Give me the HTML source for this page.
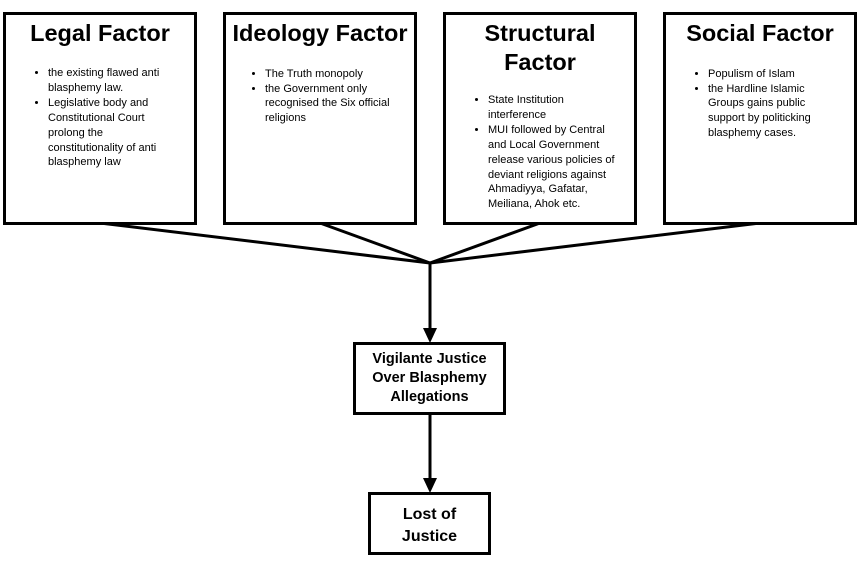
<!DOCTYPE html>
<html><head><style>
body{margin:0;width:859px;height:563px;background:#fff;position:relative;font-family:"Liberation Sans",Arial,sans-serif;overflow:hidden}
.box{position:absolute;border:3px solid #000;box-sizing:border-box;background:#fff}
.t{position:absolute;left:0;right:0;text-align:center;font-weight:bold;font-size:23.5px;line-height:29px}
ul{position:absolute;margin:0;padding-left:12px;font-size:11px;line-height:14.7px}
li{margin-bottom:1px}
.c{position:absolute;font-weight:bold;text-align:center;font-size:14.5px;line-height:19px;left:0;right:0}
</style></head><body>
<svg width="859" height="563" style="position:absolute;left:0;top:0">
<g stroke="#000" stroke-width="3" fill="none">
<line x1="100" y1="223" x2="430" y2="263"/>
<line x1="320" y1="223" x2="430" y2="263"/>
<line x1="540" y1="223" x2="430" y2="263"/>
<line x1="760" y1="223" x2="430" y2="263"/>
<line x1="430" y1="262" x2="430" y2="330"/>
<line x1="430" y1="413" x2="430" y2="480"/>
</g>
<polygon points="423,328 437,328 430,343" fill="#000"/>
<polygon points="423,478 437,478 430,493" fill="#000"/>
</svg>
<div class="box" style="left:3px;top:12px;width:194px;height:213px">
<div class="t" style="top:4px">Legal Factor</div>
<ul style="left:30px;top:51px;width:128px"><li>the existing flawed anti blasphemy law.</li><li>Legislative body and Constitutional Court prolong the constitutionality of anti blasphemy law</li></ul>
</div>
<div class="box" style="left:223px;top:12px;width:194px;height:213px">
<div class="t" style="top:4px">Ideology Factor</div>
<ul style="left:27px;top:52px;width:145px"><li style="margin:0">The Truth monopoly</li><li>the Government only recognised the Six official religions</li></ul>
</div>
<div class="box" style="left:443px;top:12px;width:194px;height:213px">
<div class="t" style="top:4px">Structural<br>Factor</div>
<ul style="left:30px;top:78px;width:133px"><li>State Institution interference</li><li>MUI followed by Central and Local Government release various policies of deviant religions against Ahmadiyya, Gafatar, Meiliana, Ahok etc.</li></ul>
</div>
<div class="box" style="left:663px;top:12px;width:194px;height:213px">
<div class="t" style="top:4px">Social Factor</div>
<ul style="left:30px;top:52px;width:118px"><li style="margin:0">Populism of Islam</li><li>the Hardline Islamic Groups gains public support by politicking blasphemy cases.</li></ul>
</div>
<div class="box" style="left:353px;top:342px;width:153px;height:73px">
<div class="c" style="top:5px">Vigilante Justice<br>Over Blasphemy<br>Allegations</div>
</div>
<div class="box" style="left:368px;top:492px;width:123px;height:63px">
<div class="c" style="top:9px;font-size:16px;line-height:22px">Lost of<br>Justice</div>
</div>
</body></html>
